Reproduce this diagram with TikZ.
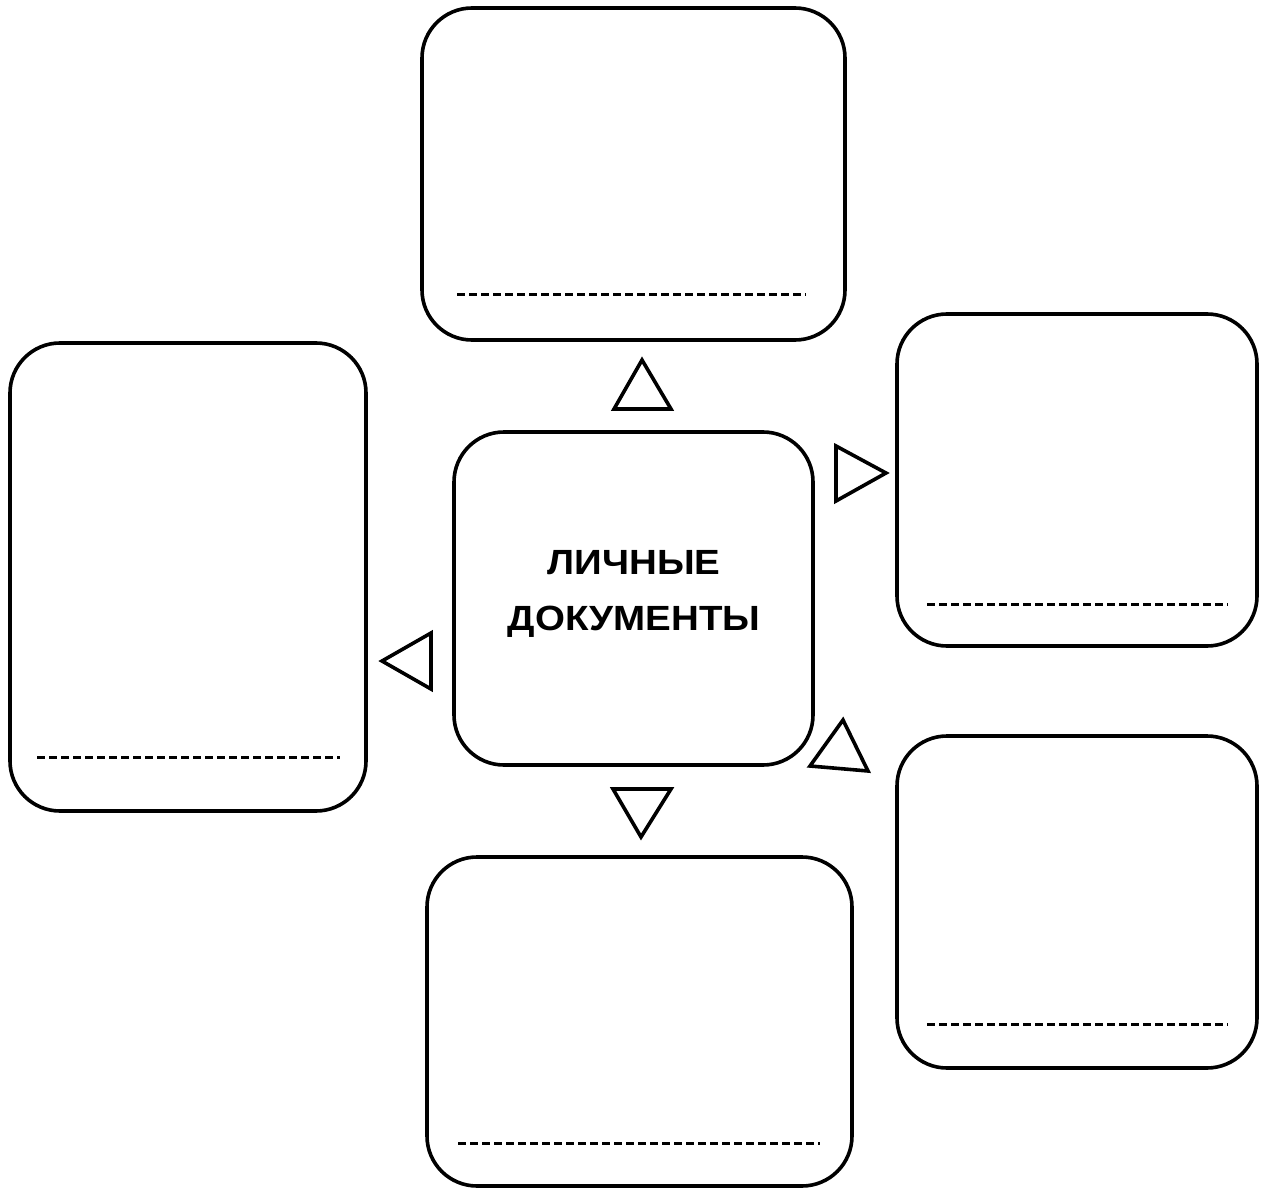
\documentclass[tikz,border=0pt]{standalone}
\usepackage{fontspec}
\newfontfamily\lab[FakeStretch=1.1]{Liberation Sans}
\begin{document}
\begin{tikzpicture}[x=1pt,y=-1pt,
  card/.style={draw=black,line width=3.6pt,rounded corners=50pt,fill=white},
  writeline/.style={draw=black,line width=3pt,dash pattern=on 7.5pt off 4.5pt},
  pointer/.style={draw=black,line width=3.6pt,line join=miter,fill=white},
  title/.style={font=\lab\bfseries\fontsize{35}{56}\selectfont,align=center,text=black}]
\useasboundingbox (0,0) rectangle (1264,1193);
% boxes
\draw[card] (422,8) rectangle (845,340);
\draw[card] (897,314) rectangle (1257,646);
\draw[card] (10,343) rectangle (366,811);
\draw[card] (454,432) rectangle (813,765);
\draw[card] (897,736) rectangle (1257,1068);
\draw[card] (427,857) rectangle (852,1186);
% writing lines
\draw[writeline] (457,294) -- (806,294);
\draw[writeline] (927,604) -- (1228,604);
\draw[writeline] (37,757) -- (340,757);
\draw[writeline] (927,1024) -- (1228,1024);
\draw[writeline] (458,1143) -- (820,1143);
% title
\node[title] (center) at (634,594) {ЛИЧНЫЕ\\ДОКУМЕНТЫ};
% triangles
\draw[pointer] (642,360) -- (671,409) -- (614,409) -- cycle;
\draw[pointer] (836,446) -- (886,473) -- (836,501) -- cycle;
\draw[pointer] (382,661) -- (431,633) -- (431,689) -- cycle;
\draw[pointer] (613,789) -- (671,789) -- (641,837) -- cycle;
\draw[pointer] (843,720) -- (868,771) -- (810,766) -- cycle;
\end{tikzpicture}
\end{document}
